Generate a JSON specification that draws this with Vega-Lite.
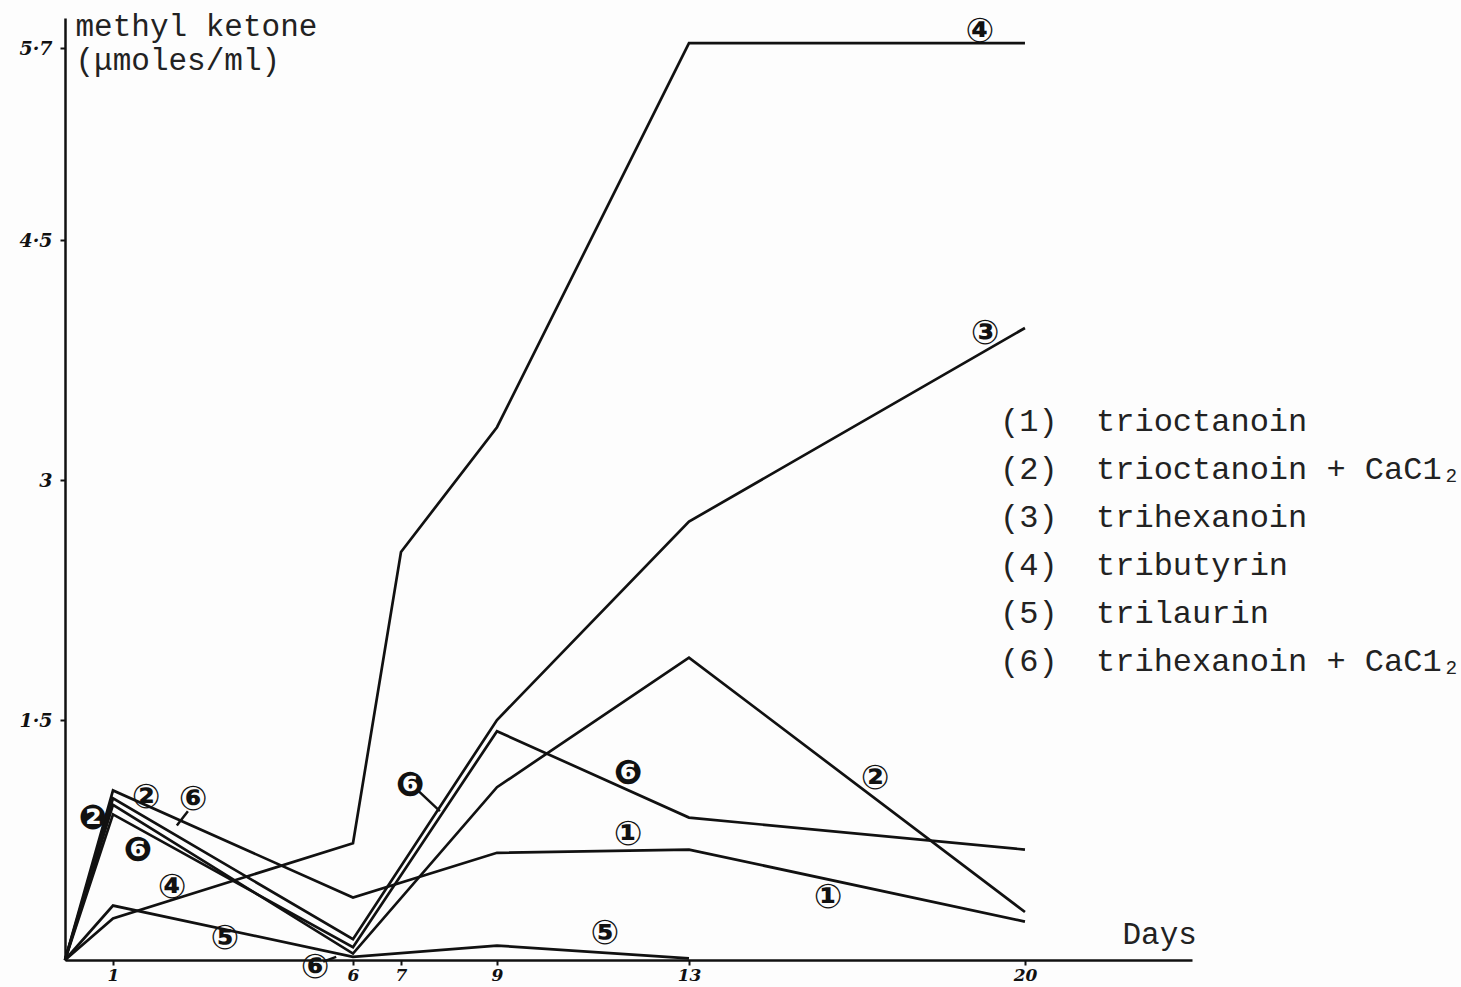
{
  "$schema": "https://vega.github.io/schema/vega-lite/v6.json",
  "width": 1127,
  "height": 942,
  "autosize": {"type": "none"},
  "padding": {"left": 65, "top": 18, "right": 269, "bottom": 27},
  "background": "#fdfdfd",
  "config": {"view": {"stroke": null}, "font": "Liberation Mono"},
  "datasets": {
    "series": [
      {"name": "(1)\u00a0\u00a0trioctanoin", "day": 0, "value": 0},
      {"name": "(1)\u00a0\u00a0trioctanoin", "day": 1, "value": 1.06},
      {"name": "(1)\u00a0\u00a0trioctanoin", "day": 6, "value": 0.39},
      {"name": "(1)\u00a0\u00a0trioctanoin", "day": 9, "value": 0.67},
      {"name": "(1)\u00a0\u00a0trioctanoin", "day": 13, "value": 0.69},
      {"name": "(1)\u00a0\u00a0trioctanoin", "day": 20, "value": 0.24},
      {"name": "(2)\u00a0\u00a0trioctanoin + CaC1₂", "day": 0, "value": 0},
      {"name": "(2)\u00a0\u00a0trioctanoin + CaC1₂", "day": 1, "value": 0.97},
      {"name": "(2)\u00a0\u00a0trioctanoin + CaC1₂", "day": 6, "value": 0.04},
      {"name": "(2)\u00a0\u00a0trioctanoin + CaC1₂", "day": 9, "value": 1.08},
      {"name": "(2)\u00a0\u00a0trioctanoin + CaC1₂", "day": 13, "value": 1.89},
      {"name": "(2)\u00a0\u00a0trioctanoin + CaC1₂", "day": 20, "value": 0.30},
      {"name": "(3)\u00a0\u00a0trihexanoin", "day": 0, "value": 0},
      {"name": "(3)\u00a0\u00a0trihexanoin", "day": 1, "value": 1.01},
      {"name": "(3)\u00a0\u00a0trihexanoin", "day": 6, "value": 0.13},
      {"name": "(3)\u00a0\u00a0trihexanoin", "day": 9, "value": 1.50},
      {"name": "(3)\u00a0\u00a0trihexanoin", "day": 13, "value": 2.74},
      {"name": "(3)\u00a0\u00a0trihexanoin", "day": 20, "value": 3.95},
      {"name": "(4)\u00a0\u00a0tributyrin", "day": 0, "value": 0},
      {"name": "(4)\u00a0\u00a0tributyrin", "day": 1, "value": 0.26},
      {"name": "(4)\u00a0\u00a0tributyrin", "day": 6, "value": 0.73},
      {"name": "(4)\u00a0\u00a0tributyrin", "day": 7, "value": 2.55},
      {"name": "(4)\u00a0\u00a0tributyrin", "day": 9, "value": 3.33},
      {"name": "(4)\u00a0\u00a0tributyrin", "day": 13, "value": 5.73},
      {"name": "(4)\u00a0\u00a0tributyrin", "day": 20, "value": 5.73},
      {"name": "(5)\u00a0\u00a0trilaurin", "day": 0, "value": 0},
      {"name": "(5)\u00a0\u00a0trilaurin", "day": 1, "value": 0.34},
      {"name": "(5)\u00a0\u00a0trilaurin", "day": 6, "value": 0.02},
      {"name": "(5)\u00a0\u00a0trilaurin", "day": 9, "value": 0.09},
      {"name": "(5)\u00a0\u00a0trilaurin", "day": 13, "value": 0.01},
      {"name": "(6)\u00a0\u00a0trihexanoin + CaC1₂", "day": 0, "value": 0},
      {"name": "(6)\u00a0\u00a0trihexanoin + CaC1₂", "day": 1, "value": 0.91},
      {"name": "(6)\u00a0\u00a0trihexanoin + CaC1₂", "day": 6, "value": 0.08},
      {"name": "(6)\u00a0\u00a0trihexanoin + CaC1₂", "day": 9, "value": 1.43},
      {"name": "(6)\u00a0\u00a0trihexanoin + CaC1₂", "day": 13, "value": 0.89},
      {"name": "(6)\u00a0\u00a0trihexanoin + CaC1₂", "day": 20, "value": 0.69}
    ],
    "labels": [
      {"label": "④", "day": 19.06, "value": 5.80},
      {"label": "③", "day": 19.17, "value": 3.91},
      {"label": "②", "day": 16.88, "value": 1.13},
      {"label": "①", "day": 11.73, "value": 0.78},
      {"label": "①", "day": 15.9, "value": 0.39},
      {"label": "❻", "day": 11.73, "value": 1.16},
      {"label": "⑤", "day": 11.25, "value": 0.16},
      {"label": "⑤", "day": 3.33, "value": 0.13},
      {"label": "④", "day": 2.23, "value": 0.45},
      {"label": "❻", "day": 1.52, "value": 0.68},
      {"label": "②", "day": 1.69, "value": 1.01},
      {"label": "⑥", "day": 2.67, "value": 1.00},
      {"label": "❷", "day": 0.58, "value": 0.88},
      {"label": "❻", "day": 7.19, "value": 1.09},
      {"label": "⑥", "day": 5.21, "value": -0.05}
    ],
    "arrows": [
      {"x": 2.56, "y": 0.93, "x2": 2.33, "y2": 0.84},
      {"x": 7.35, "y": 1.06, "x2": 7.81, "y2": 0.93},
      {"x": 5.38, "y": -0.01, "x2": 5.65, "y2": 0.02}
    ]
  },
  "layer": [
    {
      "data": {"name": "series"},
      "mark": {"type": "line", "strokeWidth": 2.7, "strokeJoin": "miter"},
      "encoding": {
        "x": {
          "field": "day", "type": "quantitative",
          "scale": {"domain": [0, 23.48], "nice": false, "zero": false},
          "axis": {
            "values": [1, 6, 7, 9, 13, 20],
            "grid": false,
            "domainColor": "#111", "domainWidth": 2.5,
            "tickColor": "#111", "tickWidth": 2, "tickSize": 5,
            "labelFont": "DejaVu Serif", "labelFontStyle": "italic", "labelFontWeight": "bold",
            "labelFontSize": 17, "labelColor": "#111", "labelPadding": 2,
            "title": "Days",
            "titleFont": "Liberation Mono", "titleFontSize": 31, "titleFontWeight": "normal",
            "titleColor": "#222", "titleX": 1057, "titleY": -17,
            "titleAlign": "left", "titleBaseline": "alphabetic"
          }
        },
        "y": {
          "field": "value", "type": "quantitative",
          "scale": {"domain": [0, 5.8875], "nice": false},
          "axis": {
            "values": [1.5, 3, 4.5, 5.7],
            "labelExpr": "datum.value == 3 ? '3' : replace(format(datum.value, '.1f'), '.', '·')",
            "grid": false,
            "domainColor": "#111", "domainWidth": 2.5,
            "tickColor": "#111", "tickWidth": 2, "tickSize": 5,
            "labelFont": "DejaVu Serif", "labelFontStyle": "italic", "labelFontWeight": "bold",
            "labelFontSize": 19, "labelColor": "#111", "labelPadding": 8,
            "title": ["methyl ketone", "(μmoles/ml)"],
            "titleFont": "Liberation Mono", "titleFontSize": 31, "titleFontWeight": "normal",
            "titleColor": "#222", "titleAngle": 0, "titleX": 10, "titleY": -7,
            "titleAlign": "left", "titleBaseline": "top", "titleLineHeight": 34
          }
        },
        "color": {
          "field": "name", "type": "nominal",
          "scale": {"range": ["#111", "#111", "#111", "#111", "#111", "#111"]},
          "legend": {
            "orient": "none", "legendX": 899, "legendY": 387,
            "title": null,
            "labelFont": "Liberation Mono", "labelFontSize": 32, "labelColor": "#222",
            "labelLimit": 800, "labelBaseline": "middle",
            "symbolSize": 0, "symbolOpacity": 0, "symbolStrokeWidth": 0,
            "rowPadding": 16
          }
        }
      }
    },
    {
      "data": {"name": "arrows"},
      "mark": {"type": "rule", "strokeWidth": 2.5, "color": "#111"},
      "encoding": {
        "x": {"field": "x", "type": "quantitative"},
        "y": {"field": "y", "type": "quantitative"},
        "x2": {"field": "x2"},
        "y2": {"field": "y2"}
      }
    },
    {
      "data": {"name": "labels"},
      "mark": {"type": "text", "font": "DejaVu Sans", "fontSize": 34, "fontWeight": "bold", "color": "#111", "baseline": "middle", "align": "center"},
      "encoding": {
        "x": {"field": "day", "type": "quantitative"},
        "y": {"field": "value", "type": "quantitative"},
        "text": {"field": "label"}
      }
    }
  ]
}
